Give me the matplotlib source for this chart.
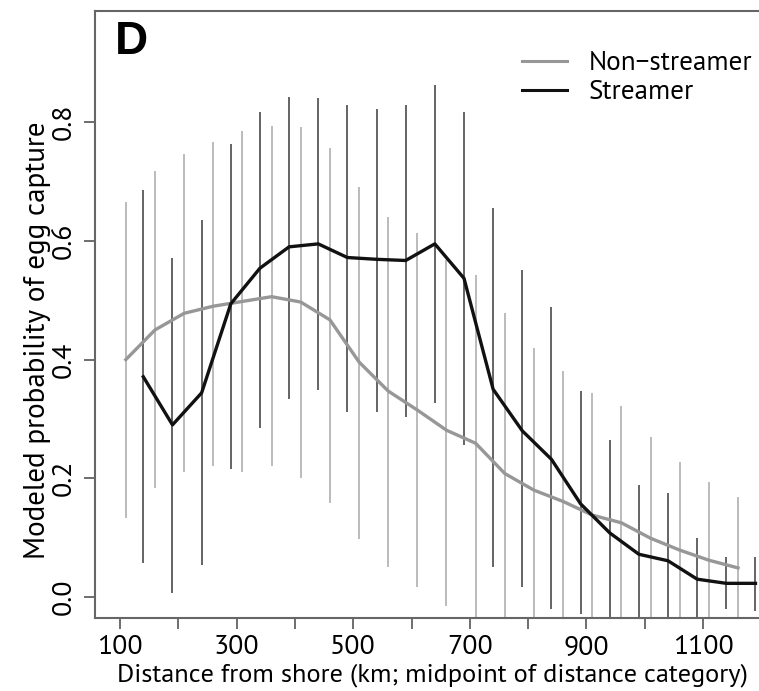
import matplotlib
matplotlib.use("Agg")
import matplotlib.pyplot as plt

# distance category midpoints (km)
nonstreamer_km = [110, 160, 210, 260, 310, 360, 410, 460, 510, 560, 610,
                  660, 710, 760, 810, 860, 910, 960, 1010, 1060, 1110, 1160]
streamer_km = [140, 190, 240, 290, 340, 390, 440, 490, 540, 590, 640,
               690, 740, 790, 840, 890, 940, 990, 1040, 1090, 1140, 1190]

# modeled probability of egg capture + interval ends
nonstreamer_p = [0.400, 0.450, 0.478, 0.490, 0.498, 0.506, 0.497, 0.467, 0.396, 0.347, 0.315,
                 0.281, 0.259, 0.208, 0.180, 0.161, 0.138, 0.125, 0.099, 0.079, 0.062, 0.049]
nonstreamer_lo = [0.133, 0.183, 0.211, 0.220, 0.211, 0.220, 0.200, 0.158, 0.097, 0.050, 0.016,
                  -0.015, -0.04, -0.04, -0.04, -0.04, -0.04, -0.04, -0.04, -0.04, -0.04, -0.04]
nonstreamer_hi = [0.666, 0.717, 0.746, 0.767, 0.785, 0.794, 0.792, 0.757, 0.690, 0.641, 0.614,
                  0.568, 0.543, 0.478, 0.420, 0.380, 0.343, 0.321, 0.269, 0.228, 0.194, 0.169]

streamer_p = [0.371, 0.290, 0.344, 0.494, 0.554, 0.590, 0.595, 0.572, 0.569, 0.567, 0.595,
              0.537, 0.350, 0.280, 0.232, 0.157, 0.108, 0.072, 0.061, 0.030, 0.023, 0.023]
streamer_lo = [0.058, 0.006, 0.054, 0.215, 0.284, 0.333, 0.349, 0.312, 0.312, 0.303, 0.327,
               0.256, 0.050, 0.017, -0.020, -0.029, -0.04, -0.04, -0.04, -0.04, -0.020, -0.023]
streamer_hi = [0.685, 0.572, 0.635, 0.763, 0.817, 0.843, 0.841, 0.829, 0.822, 0.829, 0.863,
               0.818, 0.655, 0.551, 0.489, 0.347, 0.265, 0.188, 0.176, 0.099, 0.067, 0.068]

x_ticks = [100, 200, 300, 400, 500, 600, 700, 800, 900, 1000, 1100]
x_ticklabels = ["100", "", "300", "", "500", "", "700", "", "900", "", "1100"]
y_ticks = [0.0, 0.2, 0.4, 0.6, 0.8]
y_ticklabels = ["0.0", "0.2", "0.4", "0.6", "0.8"]

FONT = ["PT Sans", "DejaVu Sans"]
GRAY = "#979797"
DARK = "#111111"
W, H = 759, 691

plt.rcParams["font.family"] = FONT

fig = plt.figure(figsize=(W / 100, H / 100), dpi=100)
ax = fig.add_axes([95 / W, 1 - 618 / H, (765 - 95) / W, (618 - 11) / H])

# interval bars
ax.vlines(nonstreamer_km, nonstreamer_lo, nonstreamer_hi, color="#a8a8a8", lw=1.1)
ax.vlines(streamer_km, streamer_lo, streamer_hi, color="#3a3a3a", lw=1.1)

# modeled curves
ax.plot(nonstreamer_km, nonstreamer_p, color=GRAY, lw=2.4, label="Non\u2212streamer")
ax.plot(streamer_km, streamer_p, color=DARK, lw=2.4, label="Streamer")

ax.set_xlim(57.1, 1206.3)
ax.set_ylim(-0.0354, 0.9874)

ax.set_xticks(x_ticks)
ax.set_xticklabels(x_ticklabels, fontsize=20)
ax.set_yticks(y_ticks)
ax.set_yticklabels(y_ticklabels, fontsize=20, rotation=90, va="center")
ax.tick_params(length=8, width=1.2, color="#555555")
ax.tick_params(axis="x", pad=4)
ax.tick_params(axis="y", pad=6)

for side in ["left", "bottom", "top", "right"]:
    ax.spines[side].set_color("#666666")
    ax.spines[side].set_linewidth(1.5)

fig.text(38 / W, 1 - 340 / H, "Modeled probability of egg capture",
         rotation=90, ha="center", va="center", fontsize=21)
fig.text(432 / W, 1 - 675 / H, "Distance from shore (km; midpoint of distance category)",
         ha="center", va="center", fontsize=19)

ax.text(115 / W, 1 - 42 / H, "D", transform=fig.transFigure, fontsize=33,
        fontweight="bold", family="Liberation Sans", ha="left", va="center")

leg = ax.legend(loc="upper left", bbox_to_anchor=(522 / W, 1 - 51 / H),
                bbox_transform=fig.transFigure, frameon=False, fontsize=19.5,
                handlelength=1.65, handletextpad=0.8, labelspacing=0.2,
                borderaxespad=0, borderpad=0)
for line in leg.get_lines():
    line.set_linewidth(2.2)

fig.savefig("out.png", dpi=100)
